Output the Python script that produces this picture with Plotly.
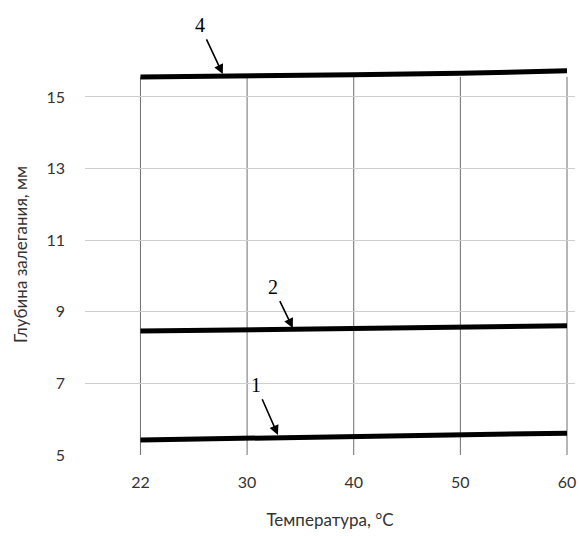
import plotly.graph_objects as go

temps = ["22", "30", "40", "50", "60"]
curve1 = [5.42, 5.46, 5.51, 5.56, 5.61]
curve2 = [8.46, 8.50, 8.54, 8.57, 8.61]
curve4 = [15.56, 15.58, 15.62, 15.66, 15.73]
y_ticks = [5, 7, 9, 11, 13, 15]

xi = list(range(len(temps)))
fig = go.Figure()
for ys in (curve1, curve2, curve4):
    fig.add_trace(go.Scatter(x=xi, y=ys, mode="lines", hoverinfo="skip",
                             line=dict(color="black", width=5), showlegend=False))

shapes = []
for i in xi:
    shapes.append(dict(type="line", xref="x", yref="y", x0=i, x1=i, y0=4.78, y1=15.56,
                       line=dict(color="#6e6e6e", width=1), layer="below"))

def ann(label, x, y, ax, ay):
    return dict(x=x, y=y, xref="x", yref="y", text=label, showarrow=True,
                ax=ax, ay=ay, arrowhead=2, arrowsize=1.2, arrowwidth=1.6,
                arrowcolor="black", standoff=0, startstandoff=2,
                font=dict(family="Liberation Serif", size=20, color="black"))

annotations = [
    ann("4", 0.772, 15.64, -23, -49),
    ann("2", 1.429, 8.55, -20, -41),
    ann("1", 1.289, 5.56, -22, -50),
]

fig.update_layout(
    width=579, height=536,
    margin=dict(l=85, r=4, t=54, b=81),
    paper_bgcolor="white", plot_bgcolor="white",
    font=dict(family="Lato", color="#333333", size=16),
    shapes=shapes, annotations=annotations,
    xaxis=dict(range=[-0.52, 4.075], tickvals=xi, ticktext=temps, showgrid=False,
               zeroline=False, showline=False, ticks="", ticklabelstandoff=16,
               title=dict(text="Температура, °C", font=dict(size=17), standoff=24)),
    yaxis=dict(range=[5, 16.2], tickvals=y_ticks, showgrid=True, gridcolor="#cfcfcf",
               gridwidth=1, zeroline=False, showline=False, ticks="",
               ticklabelstandoff=19,
               title=dict(text="Глубина залегания, мм", font=dict(size=17), standoff=14)),
)
fig.write_html("out.html", config={"displayModeBar": False},
               post_script="document.body.style.margin='0';document.body.style.overflow='hidden';")
